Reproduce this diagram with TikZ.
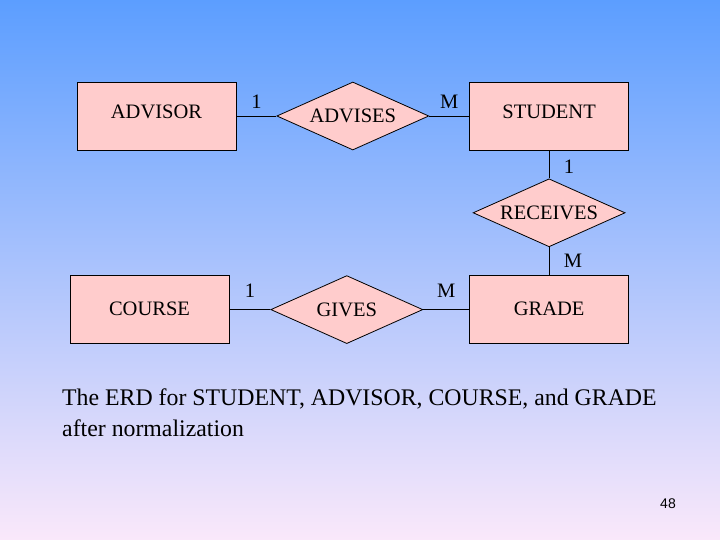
\documentclass[tikz,border=0pt]{standalone}
\usepackage{fontspec}
\setmainfont{Liberation Serif}
\newfontfamily\slidenumfont{Liberation Sans}
\usepackage{tikz}
\usetikzlibrary{positioning, shapes.geometric}
\usepackage{xcolor}

\definecolor{fondo_arriba}{RGB}{92,158,255}
\definecolor{fondo_medio}{RGB}{140,194,252}
\definecolor{fondo_abajo}{RGB}{250,232,250}
\definecolor{rosa_caja}{RGB}{255,204,204}

\begin{document}
\begin{tikzpicture}[
		x=1pt, y=-1pt,
		node distance=28pt and 40pt, % Distancia vertical y horizontal
		% --- Estilos ---
		entity_box/.style={
			draw,
			rectangle,
			fill=rosa_caja,
			line width=0.8pt,
			minimum width=159pt,
			minimum height=68pt,
			text height=11pt,
			text depth=5pt,
			font=\fontsize{20.5}{24}\selectfont
		},
		% Texto un poco mas bajo en la fila de abajo
		entity_low/.style={
			entity_box,
			text height=13pt,
			text depth=2pt
		},
		relation_diamond/.style={
			draw,
			diamond,
			aspect=2.2,
			inner sep=0pt,
			fill=rosa_caja,
			line width=0.8pt,
			minimum width=152pt,
			minimum height=68pt,
			font=\fontsize{20.5}{24}\selectfont
		},
		linea_rel/.style={
			line width=0.8pt
		},
		cardinalidad/.style={
			font=\fontsize{20.5}{24}\selectfont
		}
		]
		% 0. Fondo degradado
		\shade[top color=fondo_arriba, middle color=fondo_medio, bottom color=fondo_abajo]
		(0,0) rectangle (720,540);
		\useasboundingbox (0,0) rectangle (720,540);
		
		% 1. Nodos: fila de arriba
		\node[entity_box] (advisor) at (156.5,116) {ADVISOR};
		\node[relation_diamond, right=of advisor] (advises) {ADVISES};
		\node[entity_box, right=of advises] (student) {STUDENT};
		
		% 2. Nodos: columna derecha y fila de abajo (misma altura)
		\node[relation_diamond, below=of student] (receives) {RECEIVES};
		\node[entity_low, below=of receives] (grade) {GRADE};
		\coordinate (course_x) at (149.5,0);
		\node[entity_low] (course) at (grade -| course_x) {COURSE};
		\node[relation_diamond, right=41pt of course] (gives) {GIVES};
		
		% 3. Lineas con cardinalidades
		\draw[linea_rel] (advisor) -- node[cardinalidad, above=4pt] {1} (advises);
		\draw[linea_rel] (advises) -- node[cardinalidad, above=4pt] {M} (student);
		\draw[linea_rel] (student) -- node[cardinalidad, right=11pt, yshift=-2pt] {1} (receives);
		\draw[linea_rel] (receives) -- node[cardinalidad, right=11pt] {M} (grade);
		\draw[linea_rel] (course) -- node[cardinalidad, above=8pt] {1} (gives);
		\draw[linea_rel] (gives) -- node[cardinalidad, above=8pt] {M} (grade);
		
		% 4. Texto de abajo y numero de pagina
		\node[anchor=north west, inner sep=0pt, align=left,
		font=\fontsize{23.8}{31}\selectfont] (caption) at (62,388.5)
		{The ERD for STUDENT, ADVISOR, COURSE, and GRADE\\after normalization};
		\node[font=\slidenumfont\fontsize{14}{16}\selectfont] (pagenum) at (668,504) {48};
		
	\end{tikzpicture}
\end{document}
